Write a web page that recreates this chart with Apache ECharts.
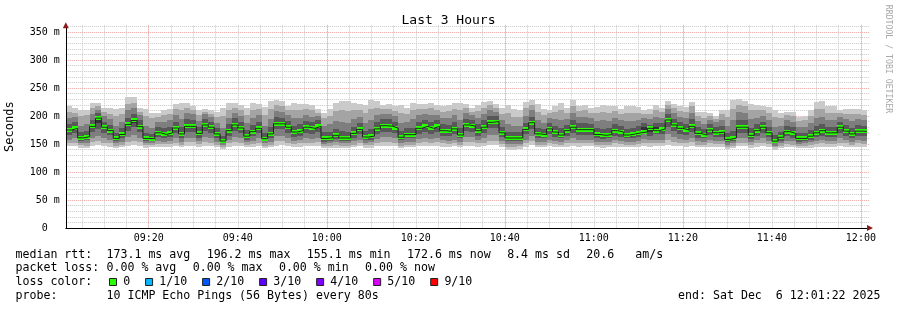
<!DOCTYPE html>
<html>
<head>
<meta charset="utf-8">
<script src="https://cdn.jsdelivr.net/npm/echarts@6/dist/echarts.min.js"></script>
<style>html,body{margin:0;padding:0;background:#fff}#c{width:897px;height:310px}</style>
</head>
<body>
<div id="c"></div>
<script>
// ---- data ----
const titleText = 'Last 3 Hours';
const yAxisTitle = 'Seconds';
const startSeconds = 9 * 3600 + 1 * 60 + 22;   // 09:01:22
const stepSeconds = 80;
const medianRtt = [
175,178,161,163,181.5,196.2,180,174,160,167,
185,192,181,160,159.5,170,167,170,178.5,168,
181.5,181.5,169,184,180,168,155.4,173.8,184,178.6,
164,172,178,159.5,168,186,186,180,171.4,173.8,
180,178,181.5,160,161,165.5,160.7,160.7,169,176,
162.5,164,177,182.7,182,178.6,162,166.7,166.7,178,
181.5,178,181.5,173.8,172.6,177,166,184,182,173.8,
180,188.7,190,170,160.7,160.7,160.7,176,188,168,
166.7,177,171.4,166,173.8,180,175.6,175.6,175.6,167,
165.5,166.7,173.8,171.4,166,168,170,171.4,178,173.8,
176.8,192.9,184,178,175,181.5,169,166,175,170,
171.4,158.3,160.7,180,180,165.5,173.8,180,170,155.1,
162,172,169,160,160,164,170,173.8,170,170,
180,173,168,173,172.6];
const ping1 = [
146,147,143,143,147,148,146,145,142,144,
147,148,147,143,144,145,145,145,146,144,
146,147,145,147,146,144,141,145,147,146,
144,145,146,142,144,147,148,146,145,145,
146,146,147,142,143,143,142,143,144,146,
143,143,146,147,147,146,143,144,144,146,
147,146,147,145,145,146,144,147,147,145,
146,148,148,145,140,140,141,145,148,144,
144,146,145,144,145,146,145,146,146,144,
143,144,145,145,144,144,145,146,145,146,
146,149,147,146,145,147,144,144,145,145,
145,141,142,146,146,143,145,146,145,139,
142,145,144,142,142,143,145,145,145,145,
146,145,144,145,145];
const ping2 = [
151,152,148,147,153,155,152,151,147,149,
154,156,153,148,148,150,150,150,152,149,
153,153,150,154,152,149,145,151,154,152,
148,150,152,147,149,155,155,152,150,151,
152,152,153,146,147,148,147,147,149,151,
148,148,152,153,153,152,147,149,149,152,
153,152,153,151,150,151,149,154,153,151,
152,156,156,150,145,145,146,151,156,149,
149,151,150,149,151,152,151,151,151,149,
148,149,151,150,149,149,150,152,151,151,
151,157,154,152,151,153,149,149,151,150,
150,145,147,152,152,148,151,152,150,144,
147,150,149,146,147,148,150,151,150,150,
152,151,149,151,150];
const ping3 = [
158,160,152,152,161,164,160,158,151,154,
163,166,161,152,151,155,154,155,160,154,
161,161,155,163,160,154,148,157,163,160,
153,156,160,151,154,164,164,160,156,157,
160,159,161,150,152,153,151,151,155,158,
152,153,159,162,162,160,152,154,154,159,
161,159,161,157,156,158,154,163,162,157,
160,166,166,155,150,150,150,158,165,154,
154,158,156,154,157,160,158,158,158,154,
153,154,157,156,154,154,156,159,157,158,
158,168,163,159,157,161,155,154,157,155,
156,149,151,160,160,153,157,160,155,147,
151,156,155,150,151,153,155,157,155,155,
160,157,154,157,156];
const ping4 = [
166,169,156,157,171,176,170,166,155,160,
174,180,171,155,155,162,160,162,169,161,
171,171,161,174,170,160,151,165,174,169,
158,164,169,155,161,176,176,170,163,165,
170,168,171,154,156,159,155,155,161,167,
157,158,168,172,172,169,157,160,160,168,
171,168,171,165,164,167,160,174,172,165,
170,178,179,162,155,155,155,167,177,161,
160,167,163,160,165,170,166,166,166,160,
159,160,165,163,160,161,163,168,165,167,
167,181,174,168,166,171,161,160,166,162,
163,153,155,170,170,159,165,170,162,151,
156,164,161,154,155,158,162,165,162,162,
170,165,161,165,164];
const ping5 = [
172,175,159,161,178,188,177,171,158,164,
182,188,178,158,157,167,164,167,175,165,
178,178,166,181,177,165,153,171,181,175,
161,169,175,157,165,183,183,177,168,171,
177,175,178,157,158,162,158,158,166,173,
160,161,174,179,179,175,159,164,164,175,
178,175,178,171,170,174,163,181,179,171,
177,185,187,167,158,158,158,173,185,165,
164,174,168,163,171,177,172,172,172,164,
162,164,171,168,163,165,168,175,171,173,
173,189,181,175,172,178,166,163,172,167,
168,156,158,177,177,162,171,177,167,153,
159,169,166,157,157,161,167,171,167,167,
177,170,165,170,170];
const ping6 = [
178,181,164,166,185,199,183,177,163,170,
188,195,184,163,162,173,170,173,182,171,
185,185,172,187,183,171,158,177,187,182,
167,175,181,162,171,189,189,183,174,177,
183,181,185,163,164,168,164,164,172,179,
165,167,180,186,185,182,165,170,170,181,
185,181,185,177,176,180,169,187,185,177,
183,192,193,173,164,164,164,179,191,171,
170,180,174,169,177,183,179,179,179,170,
168,170,177,174,169,171,174,181,177,180,
180,196,187,181,178,185,172,169,178,173,
174,161,164,183,183,168,177,183,173,158,
165,175,172,163,163,167,173,177,173,173,
183,176,171,176,176];
const ping7 = [
186,189,171,174,193,205,190,184,170,178,
197,203,192,170,168,180,178,181,190,180,
194,193,180,195,190,178,165,185,196,190,
175,184,190,170,180,198,197,191,183,185,
191,189,192,171,172,177,173,172,181,188,
174,176,189,194,194,190,174,178,179,190,
193,190,193,185,184,189,178,195,193,185,
192,200,200,181,172,171,171,188,199,179,
177,188,182,178,184,192,187,187,186,178,
177,178,185,182,177,179,182,188,184,188,
187,204,195,189,186,194,180,176,185,180,
182,169,174,193,192,178,185,190,181,166,
172,183,180,170,170,175,182,186,181,181,
190,184,179,184,183];
const ping8 = [
196,199,183,186,204,211,200,194,182,190,
210,214,201,182,178,190,189,192,201,194,
205,203,191,203,198,188,178,196,206,200,
187,196,201,183,194,209,208,201,196,197,
202,199,200,182,185,191,189,188,195,199,
188,192,201,204,204,200,188,190,194,201,
203,202,202,196,196,201,193,205,201,196,
204,210,208,192,186,183,182,200,210,192,
188,197,194,193,195,205,198,199,196,191,
192,191,197,193,191,191,193,197,194,199,
197,212,205,199,197,206,191,186,193,189,
193,182,192,207,205,194,197,200,193,181,
183,193,190,180,180,187,196,199,193,192,
198,194,191,194,192];
const ping9 = [
208,206,200,201,214,217,207,204,200,203,
222,224,207,200,196,198,201,204,212,210,
214,211,202,208,204,199,200,210,215,211,
202,211,212,202,212,219,217,210,211,210,
213,210,206,196,200,209,210,209,211,211,
206,212,214,212,213,209,205,203,211,212,
212,214,211,208,209,213,210,214,208,209,
215,219,215,204,205,199,198,214,220,208,
201,205,207,210,206,218,209,211,206,205,
208,206,209,204,206,205,206,204,204,211,
207,220,214,209,207,217,200,197,200,195,
203,198,213,220,217,210,210,210,206,198,
196,202,200,191,192,200,212,213,206,205,
205,204,203,204,202];
const ping10 = [
218,214,211,211,223,223,214,214,212,214,
234,234,214,212,206,205,211,213,221,223,
223,218,211,212,210,208,215,223,223,220,
214,224,222,216,226,228,226,218,224,221,
222,219,212,206,213,224,226,226,224,222,
220,229,226,220,222,218,219,214,224,222,
221,224,220,218,220,223,224,222,215,220,
225,226,222,214,220,212,210,225,228,222,
212,210,218,224,215,229,218,220,214,216,
220,218,218,213,218,217,216,210,213,220,
215,226,222,218,216,225,208,208,205,200,
211,211,229,230,226,222,220,218,216,211,
205,208,208,199,200,211,225,226,217,217,
211,212,213,213,210];
const lossLabels = ['0', '1/10', '2/10', '3/10', '4/10', '5/10', '9/10'];
const lossColors = ['#26ff00', '#00b8ff', '#0059ff', '#5e00ff', '#7e00ff', '#dd00ff', '#ff0000'];
const smokeGrays = ['#cacaca', '#a4a4a4', '#7e7e7e', '#585858', '#323232'];
const rttLabel = 'median rtt:';
const rttStats = ['173.1 ms avg', '196.2 ms max', '155.1 ms min', '172.6 ms now', '8.4 ms sd', '20.6   am/s'];
const lossLabel = 'packet loss:';
const lossStats = ['0.00 % avg', '0.00 % max', '0.00 % min', '0.00 % now'];
const lossColorLabel = 'loss color:';
const probeLabel = 'probe:';
const probeText = '10 ICMP Echo Pings (56 Bytes) every 80s';
const endText = 'end: Sat Dec  6 12:01:22 2025';
const watermark = 'RRDTOOL / TOBI OETIKER';

// ---- derived ----
const stepMin = stepSeconds / 60;
const xMin = startSeconds / 60;
const xMax = xMin + 180.68;
const yMax = 362;
const xOf = i => xMin + i * stepMin;
const pings = [ping1, ping2, ping3, ping4, ping5, ping6, ping7, ping8, ping9, ping10];
const smokeData = medianRtt.map((m, i) => [xOf(i)].concat(pings.map(p => p[i])));
const medData = medianRtt.map((m, i) => [xOf(i), m]);
const medLine = medData.concat([[xOf(medianRtt.length), medianRtt[medianRtt.length - 1]]]);
const pad = n => String(n).padStart(2, '0');
const fmtTime = v => pad(Math.floor(v / 60)) + ':' + pad(Math.round(v % 60));

const MONO = 'DejaVu Sans Mono';
const gray = '#c8c8c8';
const red = '#f2a0a0';
const arrowColor = '#8b1a1a';

function renderSmoke(params, api) {
  const x0 = api.value(0);
  const a = api.coord([x0, 0]);
  const b = api.coord([x0 + stepMin, 0]);
  const left = Math.round(a[0]), right = Math.round(b[0]);
  const children = [];
  for (let band = 0; band < 5; band++) {
    const lo = Math.round(api.coord([x0, api.value(1 + band)])[1]);
    const hi = Math.round(api.coord([x0, api.value(10 - band)])[1]);
    children.push({type: 'rect', shape: {x: left, y: hi, width: right - left, height: lo - hi},
      style: {fill: smokeGrays[band]}});
  }
  return {type: 'group', children};
}
function renderMedian(params, api) {
  const x0 = api.value(0);
  const p = api.coord([x0, api.value(1)]);
  const q = api.coord([x0 + stepMin, api.value(1)]);
  const left = Math.round(p[0]), right = Math.round(q[0]);
  const y = Math.round(p[1] - 2);
  return {type: 'rect', shape: {x: left, y: y, width: right - left, height: 4}, style: {fill: lossColors[0]}};
}

// ---- legend/graphic layout ----
const FS = 11.6, CW = 6.98, GAP = 16.4;
const lineY = [254.5, 268.3, 282.3, 296];
const g = [];
function txt(x, y, s, extra) {
  g.push(Object.assign({type: 'text', x: x, y: y, silent: true,
    style: {text: s, fontFamily: MONO, fontSize: FS, fill: '#000', align: 'left', verticalAlign: 'middle',
      textAlign: 'left', textVerticalAlign: 'middle'}}, extra || {}));
}
txt(15.5, lineY[0], rttLabel);
let cx = 106.5;
rttStats.forEach(s => { txt(cx, lineY[0], s); cx += s.length * CW + GAP; });
txt(15.5, lineY[1], lossLabel);
cx = 106.5;
lossStats.forEach(s => { txt(cx, lineY[1], s); cx += s.length * CW + GAP; });
txt(15.5, lineY[2], lossColorLabel);
cx = 109.5;
lossLabels.forEach((s, i) => {
  g.push({type: 'rect', silent: true, shape: {x: cx, y: 278.5, width: 7, height: 7},
    style: {fill: lossColors[i], stroke: '#202020', lineWidth: 1}});
  const lx = cx + 13.7;
  txt(lx, lineY[2], s);
  cx = lx + s.length * CW + 15.4;
});
txt(15.5, lineY[3], probeLabel);
txt(106.5, lineY[3], probeText);
g.push({type: 'text', x: 880.5, y: lineY[3], silent: true,
  style: {text: endText, fontFamily: MONO, fontSize: FS, fill: '#000', align: 'right', verticalAlign: 'middle',
    textAlign: 'right', textVerticalAlign: 'middle'}});
g.push({type: 'text', x: 888, y: 59, rotation: -Math.PI / 2, silent: true,
  style: {text: watermark, fontFamily: MONO, fontSize: 8.2, fill: '#a8a8a8', align: 'center', verticalAlign: 'middle',
    textAlign: 'center', textVerticalAlign: 'middle'}});

const chart = echarts.init(document.getElementById('c'), null, {renderer: 'canvas'});
chart.setOption({
  animation: false,
  backgroundColor: '#ffffff',
  title: {text: titleText, left: 'center', top: 9,
    textStyle: {fontFamily: MONO, fontSize: 13, fontWeight: 'normal', color: '#000'}},
  grid: {left: 65.8, right: 27, top: 25.28, bottom: 82, containLabel: false, outerBoundsMode: 'none'},
  xAxis: [{
    // time labels, grey 20-min and 5-min grid
    type: 'value', min: xMin, max: xMax, minInterval: 20, maxInterval: 20, z: 0,
    axisLine: {show: true, onZero: false, lineStyle: {color: '#000', width: 1}},
    axisTick: {show: false},
    axisLabel: {show: true, showMinLabel: false, showMaxLabel: false, margin: 5, formatter: fmtTime,
      fontFamily: MONO, fontSize: 10, color: '#000'},
    splitLine: {show: true, showMinLine: false, showMaxLine: false, lineStyle: {color: gray, type: 'dotted', width: 1}},
    minorTick: {show: false, splitNumber: 4},
    minorSplitLine: {show: true, lineStyle: {color: gray, type: 'dotted', width: 1}}
  }, {
    // red 40-min grid and arrow head
    type: 'value', position: 'bottom', min: xMin, max: xMax, minInterval: 40, maxInterval: 40, z: 1,
    axisLine: {show: true, onZero: false, symbol: ['none', 'triangle'], symbolSize: [6, 6],
      lineStyle: {color: arrowColor, width: 0}},
    axisTick: {show: false}, axisLabel: {show: false},
    splitLine: {show: true, showMinLine: false, showMaxLine: false, lineStyle: {color: red, type: 'dotted', width: 1}}
  }],
  yAxis: [{
    type: 'value', min: 0, max: yMax, interval: 50, z: 0, position: 'left',
    name: yAxisTitle, nameLocation: 'middle', nameGap: 50, nameRotate: 90,
    nameTextStyle: {fontFamily: MONO, fontSize: 12, color: '#000'},
    axisLine: {show: false},
    axisTick: {show: false},
    axisLabel: {show: true, showMaxLabel: false, margin: 6, fontFamily: MONO, fontSize: 10, color: '#000',
      formatter: v => v === 0 ? '0  ' : v + ' m'},
    splitLine: {show: true, showMinLine: false, showMaxLine: false, lineStyle: {color: red, type: 'dotted', width: 1}},
    minorTick: {show: false, splitNumber: 5},
    minorSplitLine: {show: true, lineStyle: {color: gray, type: 'dotted', width: 1}}
  }, {
    // visible axis line, above the smoke
    type: 'value', min: 0, max: yMax, position: 'left', z: 5,
    axisLine: {show: true, onZero: false, lineStyle: {color: '#000', width: 1}},
    axisTick: {show: false}, axisLabel: {show: false}, splitLine: {show: false}
  }, {
    // arrow head
    type: 'value', min: 0, max: yMax, position: 'left', z: 6,
    axisLine: {show: true, onZero: false, symbol: ['none', 'triangle'], symbolSize: [6, 6],
      lineStyle: {color: arrowColor, width: 0}},
    axisTick: {show: false}, axisLabel: {show: false}, splitLine: {show: false}
  }],
  series: [{
    type: 'custom', name: 'smoke', xAxisIndex: 0, yAxisIndex: 0, silent: true,
    renderItem: renderSmoke, data: smokeData, encode: {x: 0, y: [1, 10]}
  }, {
    type: 'line', name: 'median', xAxisIndex: 0, yAxisIndex: 0, silent: true,
    data: medLine, step: 'end', showSymbol: false, symbol: 'none',
    lineStyle: {color: '#202020', width: 1}
  }, {
    type: 'custom', name: 'loss', xAxisIndex: 0, yAxisIndex: 0, silent: true,
    renderItem: renderMedian, data: medData, encode: {x: 0, y: 1}
  }],
  graphic: g
});
</script>
</body>
</html>
